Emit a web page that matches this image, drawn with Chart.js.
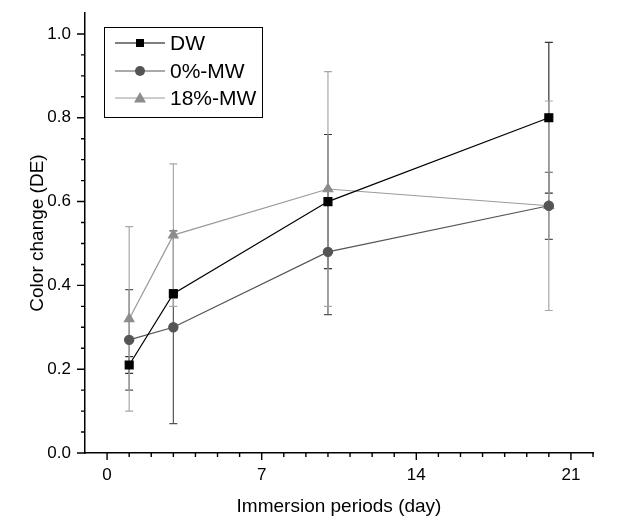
<!DOCTYPE html>
<html>
<head>
<meta charset="utf-8">
<script src="https://cdn.jsdelivr.net/npm/chart.js@4.4.1/dist/chart.umd.min.js"></script>
<style>
  html, body { margin: 0; padding: 0; background: #fff; }
  #wrap { width: 628px; height: 521px; }
</style>
</head>
<body>
<div id="wrap"><canvas id="chart" width="628" height="521"></canvas></div>
<script>
// immersion days
const days = [1, 3, 10, 20];

// mean colour change and SD for each group
const dwMean = [0.21, 0.38, 0.60, 0.80];
const dwErr = [0.02, 0.01, 0.16, 0.18];
const mw0Mean = [0.27, 0.30, 0.48, 0.59];
const mw0Err = [0.12, 0.23, 0.15, 0.08];
const mw18Mean = [0.32, 0.52, 0.63, 0.59];
const mw18Err = [0.22, 0.17, 0.28, 0.25];

// labelled ticks and the small tick marks between them
const xTicks = [0, 7, 14, 21];
const xMinor = [1, 2, 3, 4, 5, 6, 8, 9, 10, 11, 12, 13, 15, 16, 17, 18, 19, 20, 22];
const yTicks = [0.0, 0.2, 0.4, 0.6, 0.8, 1.0];
const yMinor = [0.05, 0.1, 0.15, 0.25, 0.3, 0.35, 0.45, 0.5, 0.55,
                0.65, 0.7, 0.75, 0.85, 0.9, 0.95];

const FONT = "'Liberation Sans', Arial, sans-serif";

const toPoints = (ys) => days.map((d, i) => ({ x: d, y: ys[i] }));

// vertical error bars with caps, drawn under the markers
const errorBars = {
  id: "errorBars",
  beforeDatasetsDraw(chart) {
    const ctx = chart.ctx;
    const xs = chart.scales.x;
    const ys = chart.scales.y;
    chart.data.datasets.forEach((ds) => {
      ctx.save();
      ctx.strokeStyle = ds.errColor;
      ctx.lineWidth = 1.2;
      ds.data.forEach((p, i) => {
        const e = ds.errors[i];
        const px = xs.getPixelForValue(p.x);
        const top = ys.getPixelForValue(p.y + e);
        const bot = ys.getPixelForValue(p.y - e);
        ctx.beginPath();
        ctx.moveTo(px, top);
        ctx.lineTo(px, bot);
        ctx.moveTo(px - 4, top);
        ctx.lineTo(px + 4, top);
        ctx.moveTo(px - 4, bot);
        ctx.lineTo(px + 4, bot);
        ctx.stroke();
      });
      ctx.restore();
    });
  }
};

// outward tick marks: long at labels, short in between
const tickMarks = {
  id: "tickMarks",
  afterDraw(chart) {
    const ctx = chart.ctx;
    const xs = chart.scales.x;
    const ys = chart.scales.y;
    const base = ys.getPixelForValue(0);
    const left = xs.left;
    ctx.save();
    ctx.strokeStyle = "#000";
    ctx.lineWidth = 1.4;
    ctx.beginPath();
    xTicks.forEach((v) => {
      const px = xs.getPixelForValue(v);
      ctx.moveTo(px, base); ctx.lineTo(px, base + 7);
    });
    xMinor.forEach((v) => {
      const px = xs.getPixelForValue(v);
      ctx.moveTo(px, base); ctx.lineTo(px, base + 4);
    });
    yTicks.forEach((v) => {
      const py = ys.getPixelForValue(v);
      ctx.moveTo(left, py); ctx.lineTo(left - 8, py);
    });
    yMinor.forEach((v) => {
      const py = ys.getPixelForValue(v);
      ctx.moveTo(left, py); ctx.lineTo(left - 4, py);
    });
    ctx.stroke();
    ctx.restore();
  }
};

// legend box in the top-left of the plot
const boxLegend = {
  id: "boxLegend",
  afterDraw(chart) {
    const ctx = chart.ctx;
    ctx.save();
    ctx.strokeStyle = "#000";
    ctx.lineWidth = 1;
    ctx.strokeRect(104.5, 27.5, 158, 90);
    const rows = [43, 71, 98];
    chart.data.datasets.forEach((ds, i) => {
      const y = rows[i];
      ctx.strokeStyle = ds.borderColor;
      ctx.lineWidth = 1;
      ctx.beginPath();
      ctx.moveTo(115, y);
      ctx.lineTo(165, y);
      ctx.stroke();
      ctx.fillStyle = ds.pointBackgroundColor;
      ctx.beginPath();
      if (ds.pointStyle === "rect") {
        ctx.rect(136, y - 4, 8, 8);
      } else if (ds.pointStyle === "circle") {
        ctx.arc(140, y, 5, 0, Math.PI * 2);
      } else {
        ctx.moveTo(140, y - 6);
        ctx.lineTo(146, y + 4.5);
        ctx.lineTo(134, y + 4.5);
        ctx.closePath();
      }
      ctx.fill();
      ctx.fillStyle = "#000";
      ctx.font = "21px " + FONT;
      ctx.textBaseline = "middle";
      ctx.fillText(ds.label, 170, y + 1);
    });
    ctx.restore();
  }
};

const ctx = document.getElementById("chart").getContext("2d");
new Chart(ctx, {
  type: "line",
  data: {
    datasets: [
      {
        label: "DW",
        data: toPoints(dwMean),
        errors: dwErr,
        errColor: "#333",
        borderColor: "#000",
        backgroundColor: "#000",
        pointBackgroundColor: "#000",
        pointBorderColor: "#000",
        pointStyle: "rect",
        pointRadius: 5.6,
        borderWidth: 1.2,
        tension: 0,
      },
      {
        label: "0%-MW",
        data: toPoints(mw0Mean),
        errors: mw0Err,
        errColor: "#555",
        borderColor: "#555",
        backgroundColor: "#555",
        pointBackgroundColor: "#555",
        pointBorderColor: "#555",
        pointStyle: "circle",
        pointRadius: 4.6,
        borderWidth: 1.2,
        tension: 0,
      },
      {
        label: "18%-MW",
        data: toPoints(mw18Mean),
        errors: mw18Err,
        errColor: "#a8a8a8",
        borderColor: "#9a9a9a",
        backgroundColor: "#8c8c8c",
        pointBackgroundColor: "#8c8c8c",
        pointBorderColor: "#8c8c8c",
        pointStyle: "triangle",
        pointRadius: 5.5,
        borderWidth: 1.2,
        tension: 0,
      },
    ],
  },
  options: {
    responsive: false,
    animation: false,
    layout: { padding: { top: 13, right: 35, left: 0, bottom: 0 } },
    plugins: {
      legend: { display: false },
      tooltip: { enabled: false },
    },
    scales: {
      x: {
        type: "linear",
        min: -1,
        max: 22,
        afterBuildTicks(scale) {
          scale.ticks = xTicks.map((v) => ({ value: v }));
        },
        afterFit(scale) {
          scale.height = 68;
          scale.paddingLeft = 0;
          scale.paddingRight = 0;
        },
        grid: { display: false, drawTicks: false },
        border: { color: "#000", width: 1.5 },
        ticks: {
          autoSkip: false,
          maxRotation: 0,
          padding: 12,
          color: "#000",
          font: { family: FONT, size: 17 },
          callback: (v) => String(v),
        },
        title: {
          display: true,
          text: "Immersion periods (day)",
          color: "#000",
          font: { family: FONT, size: 19 },
          padding: { top: 0, bottom: 3 },
        },
      },
      y: {
        type: "linear",
        min: 0,
        max: 1.05,
        afterBuildTicks(scale) {
          scale.ticks = yTicks.map((v) => ({ value: v }));
        },
        afterFit(scale) {
          scale.width = 85;
          scale.paddingTop = 0;
          scale.paddingBottom = 0;
        },
        grid: { display: false, drawTicks: false },
        border: { color: "#000", width: 1.5 },
        ticks: {
          autoSkip: false,
          padding: 14,
          color: "#000",
          font: { family: FONT, size: 17 },
          callback: (v) => v.toFixed(1),
        },
        title: {
          display: true,
          text: "Color change (DE)",
          color: "#000",
          font: { family: FONT, size: 19 },
          padding: { top: 26, bottom: 0 },
        },
      },
    },
  },
  plugins: [errorBars, tickMarks, boxLegend],
});
</script>
</body>
</html>
